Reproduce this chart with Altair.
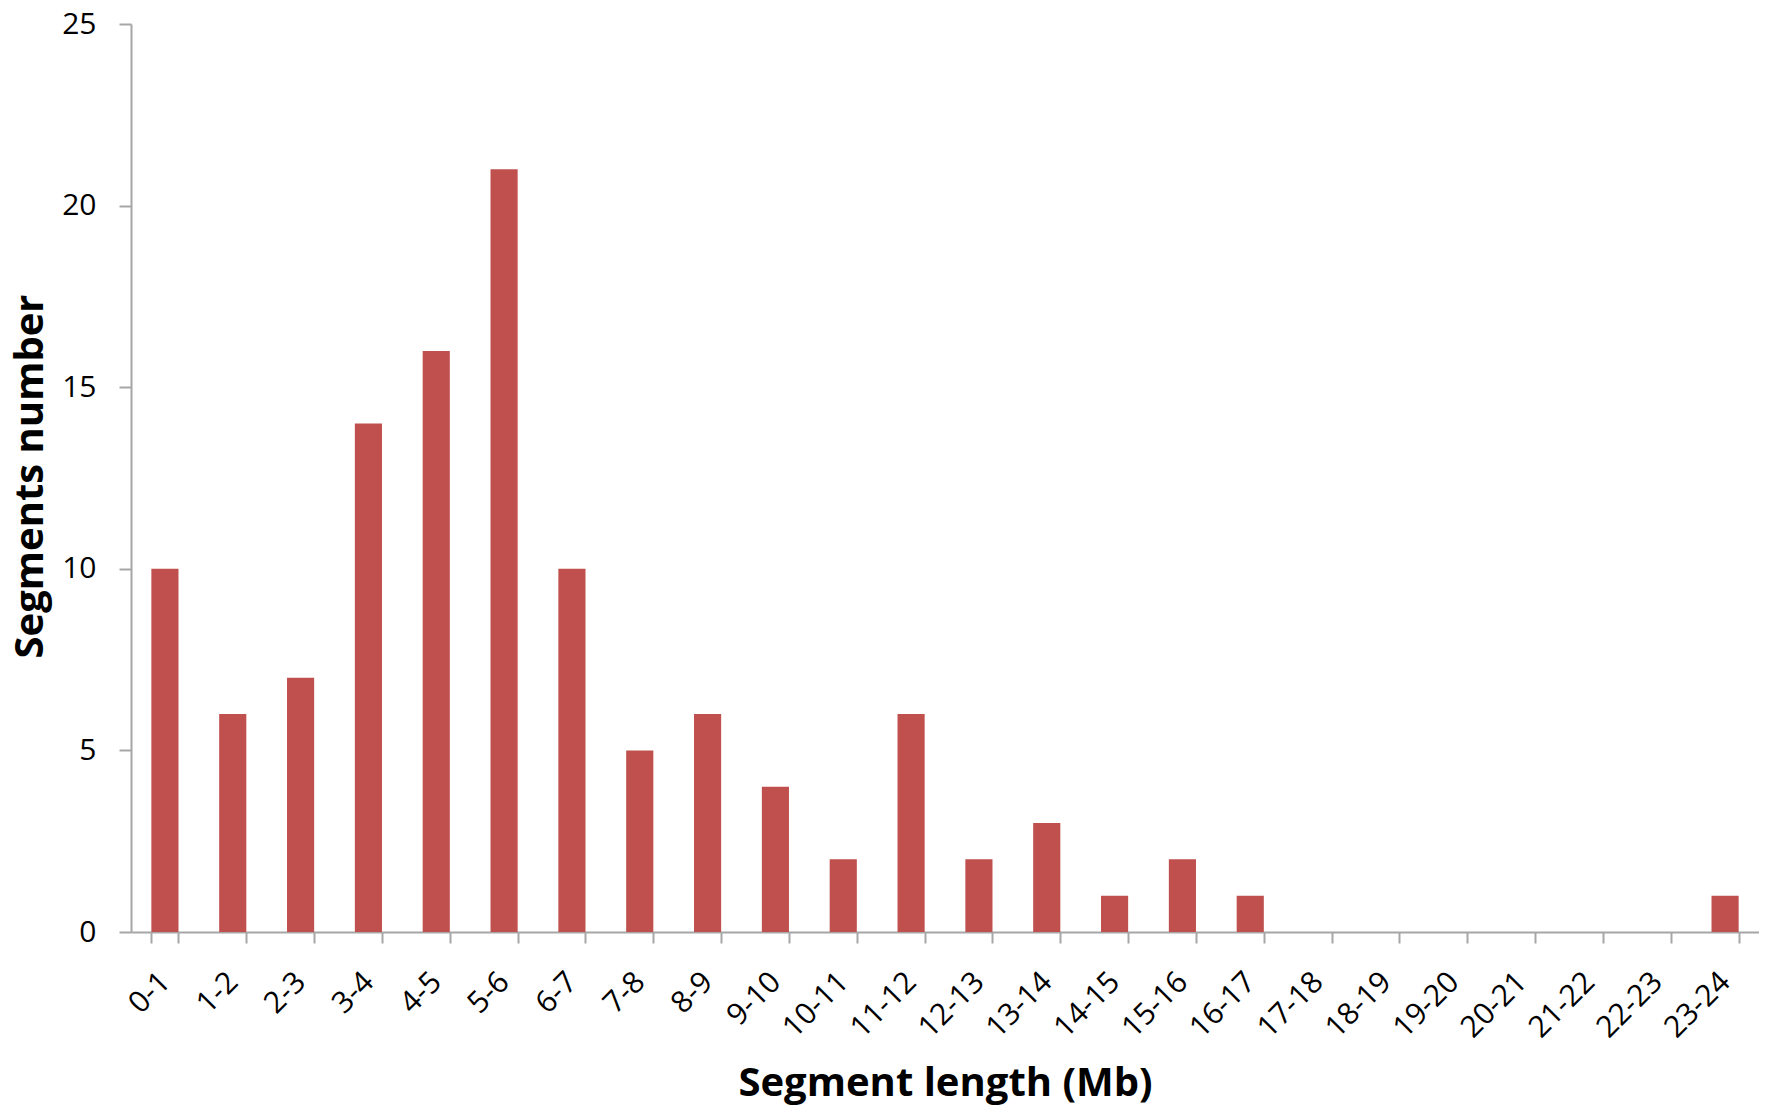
import altair as alt
import pandas as pd

categories = ["0-1", "1-2", "2-3", "3-4", "4-5", "5-6", "6-7", "7-8", "8-9", "9-10",
              "10-11", "11-12", "12-13", "13-14", "14-15", "15-16", "16-17", "17-18",
              "18-19", "19-20", "20-21", "21-22", "22-23", "23-24"]
counts = [10, 6, 7, 14, 16, 21, 10, 5, 6, 4, 2, 6, 2, 3, 1, 2, 1, 0, 0, 0, 0, 0, 0, 1]
y_ticks = [0, 5, 10, 15, 20, 25]

df = pd.DataFrame({"length": categories, "count": counts})

FONT = "Open Sans"
AXIS_COLOR = "#A6A6A6"

chart = alt.Chart(df).mark_bar(color="#C0504D").encode(
    x=alt.X("length:N", sort=categories,
            scale=alt.Scale(paddingInner=0.6, paddingOuter=0.3),
            axis=alt.Axis(title="Segment length (Mb)", labelAngle=-45,
                          labelAlign="right", labelBaseline="middle",
                          labelOffset=0, labelPadding=34,
                          tickBand="extent", tickSize=11,
                          titleY=163, titleBaseline="alphabetic")),
    y=alt.Y("count:Q", scale=alt.Scale(domain=[0, 25], nice=False),
            axis=alt.Axis(title="Segments number", values=y_ticks, tickSize=12,
                          labelPadding=23, grid=False,
                          titleX=-101, titleY=452, titleAngle=-90,
                          titleBaseline="middle", titleAlign="center")),
).properties(
    width=1628, height=908,
    autosize=alt.AutoSizeParams(type="none"),
    padding={"left": 123, "top": 16, "right": 0, "bottom": 174},
).configure_view(stroke=None).configure_axis(
    domainColor=AXIS_COLOR, tickColor=AXIS_COLOR, domainWidth=2, tickWidth=2,
    labelFont=FONT, labelFontSize=30, labelColor="#000000",
    titleFont=FONT, titleFontSize=40, titleFontWeight="bold", titleColor="#000000",
)

chart.save("out.html", embed_options={"renderer": "svg", "actions": False})
